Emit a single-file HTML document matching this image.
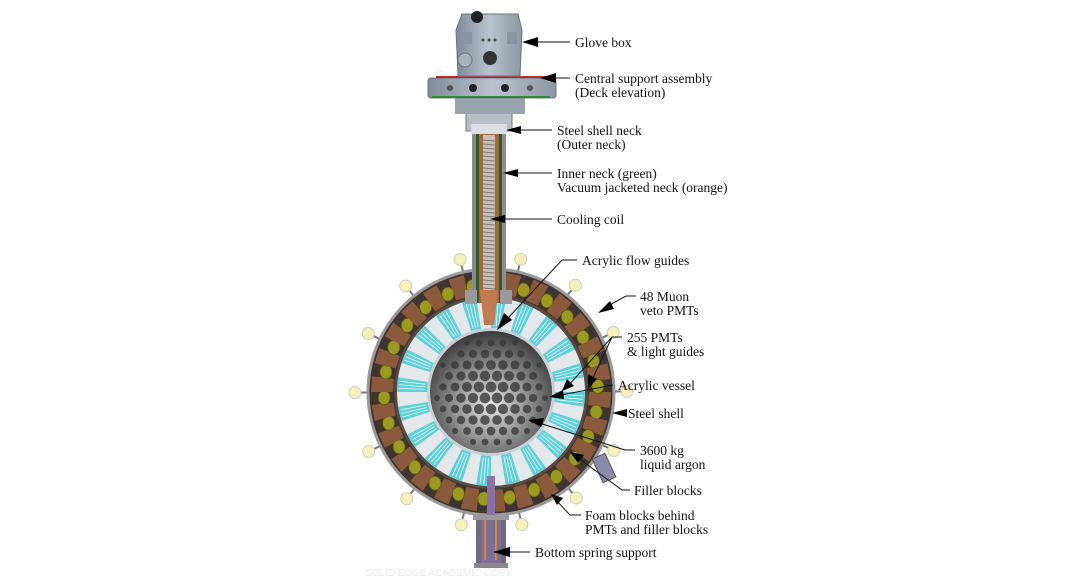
<!DOCTYPE html>
<html><head><meta charset="utf-8">
<style>
html,body{margin:0;padding:0;background:#fff;}
svg{display:block;}
text{font-family:"Liberation Serif",serif;font-size:13.5px;fill:#111;}
</style></head><body>
<svg id="s" width="1068" height="580" viewBox="0 0 1068 580" xmlns="http://www.w3.org/2000/svg">
<defs>
<radialGradient id="sph" cx="0.5" cy="0.6" r="0.6">
<stop offset="0" stop-color="#e8e8e8"/><stop offset="0.55" stop-color="#8a8a8a"/><stop offset="1" stop-color="#3a3a3a"/>
</radialGradient>
<linearGradient id="metal" x1="0" x2="1">
<stop offset="0" stop-color="#7f8a99"/><stop offset="0.5" stop-color="#b9c3cf"/><stop offset="1" stop-color="#8d97a4"/>
</linearGradient>
</defs>
<g id="bulbs"></g>
<circle cx="491" cy="392" r="123" fill="#3e3432" stroke="#9a9a9a" stroke-width="3"/>
<g id="ring"></g>
<circle cx="491" cy="392" r="97" fill="#5b4a42"/>
<circle cx="491" cy="392" r="94" fill="#e4e8ea"/>
<g id="guides"></g>
<circle cx="491" cy="392" r="64" fill="#c9d0d4"/>
<circle cx="491" cy="392" r="61" fill="url(#sph)"/>
<g id="hex"></g>
<rect x="472" y="128" width="34" height="175" fill="#8a8f96"/>
<rect x="476" y="128" width="26" height="175" fill="#2f5a2c"/>
<rect x="479" y="128" width="20" height="175" fill="#a06a3a"/>
<rect x="483" y="135" width="12" height="165" fill="#c8c0b8"/>
<g id="coil"></g>
<path d="M480 290 L498 290 L494 325 L484 325Z" fill="#c27a4e"/>
<rect x="466" y="113" width="46" height="18" fill="#b8bec6" stroke="#777"/>
<rect x="471" y="124" width="36" height="10" fill="#dde0e3"/>
<rect x="465" y="290" width="12" height="14" fill="#999"/><rect x="500" y="290" width="12" height="14" fill="#999"/>
<rect x="455" y="88" width="70" height="26" fill="#9aa2ac"/>
<rect x="428" y="78" width="128" height="20" rx="3" fill="url(#metal)" stroke="#6b7480"/>
<line x1="436" y1="77" x2="548" y2="77" stroke="#c0282a" stroke-width="2"/>
<line x1="432" y1="97" x2="550" y2="97" stroke="#2a8a3a" stroke-width="2"/>
<circle cx="473" cy="88" r="4" fill="#222"/><circle cx="505" cy="88" r="4" fill="#222"/><circle cx="450" cy="88" r="3" fill="#555"/><circle cx="530" cy="88" r="3" fill="#555"/>
<path d="M462 14 L518 14 L522 30 L520 76 L458 76 L456 30Z" fill="url(#metal)" stroke="#6b7480"/>
<circle cx="477" cy="17" r="6" fill="#222"/>
<circle cx="490" cy="58" r="7" fill="#333"/>
<circle cx="465" cy="60" r="7" fill="#aab3bd" stroke="#6b7480"/>
<rect x="462" y="32" width="10" height="12" fill="#8a94a0"/><rect x="507" y="32" width="10" height="12" fill="#8a94a0"/>
<circle cx="483" cy="40" r="1.5" fill="#444"/><circle cx="489" cy="40" r="1.5" fill="#444"/><circle cx="495" cy="40" r="1.5" fill="#444"/>
<!-- bottom support -->
<rect x="487" y="476" width="8" height="45" fill="#8c70a8"/>
<rect x="476" y="515" width="30" height="53" fill="#6e6a80"/>
<rect x="481" y="515" width="20" height="53" fill="#7f6c98"/>
<line x1="485" y1="520" x2="485" y2="560" stroke="#d08a30" stroke-width="2"/>
<line x1="496" y1="520" x2="496" y2="560" stroke="#d08a30" stroke-width="2"/>
<rect x="473" y="515" width="36" height="5" fill="#999"/>
<rect x="474" y="563" width="34" height="5" fill="#888"/>
<rect x="597" y="455" width="14" height="26" fill="#8a8aa8" stroke="#555" transform="rotate(-25 604 468)"/>
<g stroke="#111" stroke-width="1" fill="none">
<path d="M536 42 H570"/><path d="M550 78 H570"/><path d="M516 130 H552"/><path d="M512 173 H552"/><path d="M500 219 H552"/>
<path d="M577 260 H562 L508 318"/><path d="M636 296 H626 L604 308"/>
<path d="M622 337 H612 L592 380 M612 337 L568 386"/><path d="M613 385 L556 396"/><path d="M624 413 H616"/>
<path d="M635 450 L625 450 L536 422"/><path d="M630 490 H622 L578 458"/><path d="M581 515 H570 L556 500"/><path d="M505 552 H530"/>
</g>
<g fill="#000">
<path d="M522 42 L538 37 L538 47Z"/><path d="M540 78 L556 73 L556 83Z"/><path d="M506 130 L521 126 L521 134Z"/>
<path d="M503 173 L518 169 L518 177Z"/><path d="M490 219 L505 215 L505 223Z"/>
<path d="M497 330 L504 313 L512 320Z"/><path d="M598 313 L610 301 L614 309Z"/>
<path d="M588 389 L588 374 L597 379Z"/><path d="M562 391 L567 379 L574 386Z"/>
<path d="M549 397 L563 390 L564 399Z"/><path d="M612 413 L627 409 L627 417Z"/>
<path d="M528 420 L544 418 L541 427Z"/><path d="M570 452 L584 455 L578 463Z"/>
<path d="M551 494 L563 498 L557 505Z"/><path d="M493 552 L510 547 L510 557Z"/>
</g>
<text x="575" y="47">Glove box</text>
<text x="575" y="83">Central support assembly</text><text x="575" y="97">(Deck elevation)</text>
<text x="557" y="135">Steel shell neck</text><text x="557" y="149">(Outer neck)</text>
<text x="557" y="178">Inner neck (green)</text><text x="557" y="192">Vacuum jacketed neck (orange)</text>
<text x="557" y="224">Cooling coil</text>
<text x="582" y="265">Acrylic flow guides</text>
<text x="640" y="301">48 Muon</text><text x="640" y="315">veto PMTs</text>
<text x="627" y="342">255 PMTs</text><text x="627" y="356">&amp; light guides</text>
<text x="618" y="390">Acrylic vessel</text>
<text x="628" y="418">Steel shell</text>
<text x="640" y="455">3600 kg</text><text x="640" y="469">liquid argon</text>
<text x="634" y="495">Filler blocks</text>
<text x="585" y="520">Foam blocks behind</text><text x="585" y="534">PMTs and filler blocks</text>
<text x="535" y="557">Bottom spring support</text>
<text x="365" y="576" style="font-family:'Liberation Sans',sans-serif;font-size:10px;fill:#eaeaea">SOLID EDGE ACADEMIC COPY</text>
</svg>
<script>
var NS="http://www.w3.org/2000/svg",cx=491,cy=392;
function el(p,t,a){var e=document.createElementNS(NS,t);for(var k in a)e.setAttribute(k,a[k]);document.getElementById(p).appendChild(e);return e;}
function pt(r,a){return [cx+r*Math.cos(a),cy+r*Math.sin(a)];}
for(var i=0;i<26;i++){var a=i/26*2*Math.PI,b=(i+0.55)/26*2*Math.PI;
var p1=pt(98,a),p2=pt(120,a),p3=pt(120,b),p4=pt(98,b);
el("ring","path",{d:"M"+p1+" L"+p2+" L"+p3+" L"+p4+"Z",fill:"#8b5a3c"});
var c=pt(107,(i+0.78)/26*2*Math.PI);el("ring","ellipse",{cx:c[0],cy:c[1],rx:6,ry:7,fill:"#9c9a1e",stroke:"#5c5a10","stroke-width":0.8});}
for(var i=0;i<14;i++){var a=(i/14)*2*Math.PI-Math.PI/2+0.22;
var c=pt(136,a),d=pt(124,a);el("bulbs","line",{x1:d[0],y1:d[1],x2:c[0],y2:c[1],stroke:"#777","stroke-width":2});
el("bulbs","circle",{cx:c[0],cy:c[1],r:6,fill:"#f4f2b8",stroke:"#ccc"});}
for(var i=0;i<20;i++){var a=i/20*2*Math.PI,b=(i+0.5)/20*2*Math.PI;
var p1=pt(64,a),p2=pt(94,a),p3=pt(94,b),p4=pt(64,b);
el("guides","path",{d:"M"+p1+" L"+p2+" L"+p3+" L"+p4+"Z",fill:"#5fd0d8"});
for(var k=1;k<4;k++){var t=a+(b-a)*k/4,q1=pt(66,t),q2=pt(92,t);el("guides","line",{x1:q1[0],y1:q1[1],x2:q2[0],y2:q2[1],stroke:"#e8fbfc","stroke-width":0.8});}}
for(var y=-60;y<=60;y+=11){for(var x=-60;x<=60;x+=12){var xx=x+((Math.round(y/11)%2)?6:0);var d=Math.hypot(xx,y);if(d>56)continue;
var s=Math.sqrt(1-(d/62)*(d/62));el("hex","circle",{cx:cx+xx,cy:cy+y,r:4.8*s+0.6,fill:"#3a3a3a","fill-opacity":0.8});}}
for(var y=140;y<292;y+=4)el("coil","line",{x1:483,y1:y,x2:495,y2:y+1,stroke:"#777","stroke-width":1});
</script>
</body></html>
